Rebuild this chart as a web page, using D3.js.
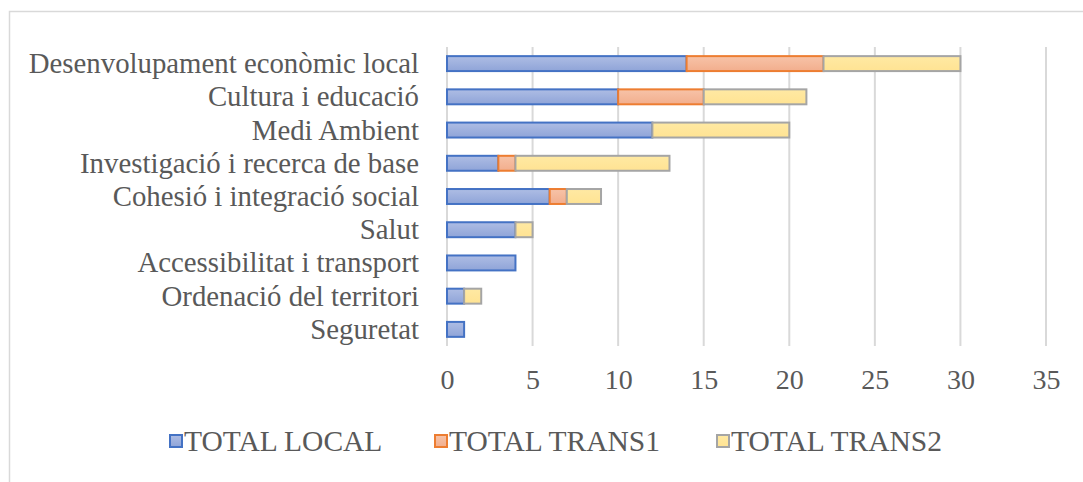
<!DOCTYPE html>
<html><head><meta charset="utf-8">
<script src="https://cdn.jsdelivr.net/npm/d3@7"></script>
<style>body{margin:0;background:#fff}svg{display:block}</style>
</head><body>
<svg id="c" width="1083" height="482"></svg>
<script>
const categories = ["Desenvolupament econòmic local","Cultura i educació","Medi Ambient","Investigació i recerca de base","Cohesió i integració social","Salut","Accessibilitat i transport","Ordenació del territori","Seguretat"];
const totalLocal  = [14,10,12,3,6,4,4,1,1];
const totalTrans1 = [8,5,0,1,1,0,0,0,0];
const totalTrans2 = [8,6,8,9,2,1,0,1,0];
const seriesNames = ["TOTAL LOCAL","TOTAL TRANS1","TOTAL TRANS2"];
const xTicks = [0,5,10,15,20,25,30,35];

const svg = d3.select("#c");
const font = "'Liberation Serif','Times New Roman',serif";
const textCol = "#595959";

// frame
svg.append("rect").attr("x",9.5).attr("y",11.5).attr("width",1200).attr("height",600)
  .attr("fill","#fff").attr("stroke","#d9d9d9").attr("stroke-width",1.5);

const defs = svg.append("defs");
const fills = [
  {id:"gBlue", c1:"#aebde4", c2:"#8fa4d8", stroke:"#4472C4"},
  {id:"gOrange", c1:"#f7c3a8", c2:"#f2ae8d", stroke:"#ED7D31"},
  {id:"gYellow", c1:"#ffe9a3", c2:"#ffe393", stroke:"#A5A5A5"}
];
fills.forEach(f=>{
  const g = defs.append("linearGradient").attr("id",f.id).attr("x1",0).attr("y1",0).attr("x2",0).attr("y2",1);
  g.append("stop").attr("offset","0%").attr("stop-color",f.c1);
  g.append("stop").attr("offset","100%").attr("stop-color",f.c2);
});

const x = d3.scaleLinear().domain([0,35]).range([447,1046]);
const y = d3.scaleBand().domain(categories).range([47,346]).paddingInner(0.55).paddingOuter(0.275);

// gridlines
svg.append("g").selectAll("line").data(xTicks).join("line")
  .attr("x1",d=>x(d)).attr("x2",d=>x(d)).attr("y1",47).attr("y2",346)
  .attr("stroke","#d9d9d9").attr("stroke-width",2);

// stacked data
const rows = categories.map((c,i)=>({cat:c, v:[totalLocal[i],totalTrans1[i],totalTrans2[i]]}));
const segs = [];
rows.forEach(r=>{
  let s=0;
  r.v.forEach((v,k)=>{ if(v>0) segs.push({cat:r.cat,k,x0:s,x1:s+v}); s+=v; });
});
svg.append("g").selectAll("rect").data(segs).join("rect")
  .attr("x",d=>x(d.x0)).attr("width",d=>x(d.x1)-x(d.x0))
  .attr("y",d=>y(d.cat)).attr("height",y.bandwidth())
  .attr("fill",d=>`url(#${fills[d.k].id})`).attr("stroke",d=>fills[d.k].stroke).attr("stroke-width",2);

// category labels
svg.append("g").selectAll("text").data(categories).join("text")
  .attr("x",419).attr("y",d=>y(d)+y.bandwidth()/2).attr("dy","0.33em")
  .attr("text-anchor","end").attr("font-family",font).attr("font-size",28.8).attr("fill",textCol)
  .text(d=>d);

// x axis labels
const xAxis = d3.axisBottom(x).tickValues(xTicks).tickSize(0).tickPadding(0);
const ax = svg.append("g").attr("transform","translate(0,369)").call(xAxis);
ax.select(".domain").remove();
ax.selectAll("text").attr("font-family",font).attr("font-size",28).attr("fill",textCol).attr("dy","0.71em");

// legend
const legX = [170,435,717];
const lg = svg.append("g").selectAll("g").data(seriesNames).join("g")
  .attr("transform",(d,i)=>`translate(${legX[i]},441)`);
lg.append("rect").attr("x",0).attr("y",-6).attr("width",12).attr("height",12)
  .attr("fill",(d,i)=>`url(#${fills[i].id})`).attr("stroke",(d,i)=>fills[i].stroke).attr("stroke-width",2);
lg.append("text").attr("x",14).attr("y",0).attr("dy","0.35em")
  .attr("font-family",font).attr("font-size",29.5).attr("fill",textCol).text(d=>d);
</script>
</body></html>
